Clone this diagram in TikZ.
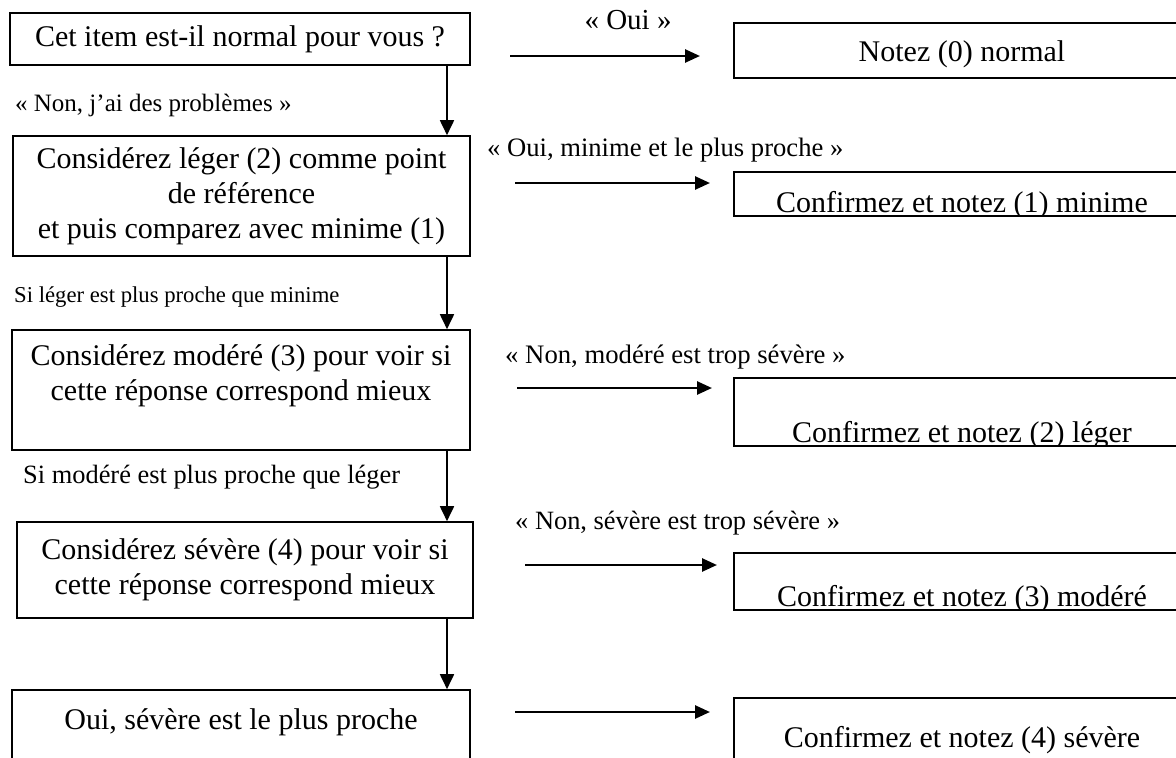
\documentclass[tikz,border=0pt]{standalone}
\usepackage{fontspec}
\setmainfont{Liberation Serif}
\usetikzlibrary{arrows.meta}
\tikzset{
  x=1pt, y=-1pt,
  lbox/.style={draw, line width=1.6pt, inner sep=0pt, align=center,
    font=\fontsize{30}{35}\selectfont},
  rframe/.style={draw, line width=1.6pt, inner sep=0pt},
  rtext/.style={inner sep=0pt, anchor=base, font=\fontsize{30}{35}\selectfont},
  varrow/.style={line width=1.8pt, -{Triangle[length=15pt,width=14pt]}},
  harrow/.style={line width=2.6pt, -{Triangle[length=15pt,width=13pt]}},
  lab/.style={inner sep=0pt, anchor=west},
}
\begin{document}
\begin{tikzpicture}
\useasboundingbox (0,0) rectangle (1176,758);
\clip (0,0) rectangle (1176,758);
\fill[white] (0,0) rectangle (1176,758);

% left column boxes
\node[lbox, minimum width=460pt, minimum height=52pt] (b1) at (240,39) {Cet item est-il normal pour vous ?};
\node[lbox, minimum width=457pt, minimum height=120pt] (b2) at (241.5,196)
  {\fontsize{30}{37}\selectfont Considérez léger (2) comme point\\de référence\\et puis comparez avec minime (1)};
\node[lbox, minimum width=458pt, minimum height=120pt] (b3) at (241,390)
  {Considérez modéré (3) pour voir si\\cette réponse correspond mieux\\\mbox{}};
\node[lbox, minimum width=456pt, minimum height=96pt] (b4) at (245,570)
  {Considérez sévère (4) pour voir si\\cette réponse correspond mieux};
\node[lbox, minimum width=458pt, minimum height=94pt] (b5) at (241,737)
  {Oui, sévère est le plus proche\\\mbox{}};

% vertical connectors
\coordinate (vx) at (447,0);
\draw[varrow] (b1.south -| vx) -- (b2.north -| vx);
\draw[varrow] (b2.south -| vx) -- (b3.north -| vx);
\draw[varrow] (b3.south -| vx) -- (b4.north -| vx);
\draw[varrow] (b4.south -| vx) -- (b5.north -| vx);

% left labels
\node[lab, font=\fontsize{25}{29}\selectfont] (l1) at (15,105) {« Non, j’ai des problèmes »};
\node[lab, font=\fontsize{22.7}{27}\selectfont] (l2) at (14,297) {Si léger est plus proche que minime};
\node[lab, font=\fontsize{26.4}{31}\selectfont] (l3) at (23,477) {Si modéré est plus proche que léger};

% right labels
\node[inner sep=0pt, font=\fontsize{29}{34}\selectfont] (r1) at (628,20) {« Oui »};
\node[lab, font=\fontsize{26.6}{31}\selectfont] (r2) at (487,150) {« Oui, minime et le plus proche »};
\node[lab, font=\fontsize{26.7}{31}\selectfont] (r3) at (505,357) {« Non, modéré est trop sévère »};
\node[lab, font=\fontsize{26.4}{31}\selectfont] (r4) at (515,523) {« Non, sévère est trop sévère »};

% horizontal arrows
\coordinate (h1s) at (510,56);  \coordinate (h1e) at (700,56);
\coordinate (h2s) at (515,183); \coordinate (h2e) at (710,183);
\coordinate (h3s) at (517,388); \coordinate (h3e) at (712,388);
\coordinate (h4s) at (525,565); \coordinate (h4e) at (717,565);
\coordinate (h5s) at (515,712); \coordinate (h5e) at (710,712);
\draw[harrow] (h1s) -- (h1e);
\draw[harrow] (h2s) -- (h2e);
\draw[harrow] (h3s) -- (h3e);
\draw[harrow] (h4s) -- (h4e);
\draw[harrow] (h5s) -- (h5e);

% right result boxes
\node[rframe, minimum width=456pt, minimum height=55pt] (n0) at (962,50.5) {};
\node[rtext] (t0) at (962,61) {Notez (0) normal};

\node[rframe, minimum width=456pt, minimum height=44pt] (n1) at (962,194) {};
\begin{scope}
\clip (734,172) rectangle (1190,214);
\node[rtext] (t1) at (962,212) {Confirmez et notez (1) minime};
\end{scope}

\node[rframe, minimum width=456pt, minimum height=68pt] (n2) at (962,412) {};
\begin{scope}
\clip (734,378) rectangle (1190,444);
\node[rtext] (t2) at (962,442) {Confirmez et notez (2) léger};
\end{scope}

\node[rframe, minimum width=456pt, minimum height=57pt] (n3) at (962,581.5) {};
\begin{scope}
\clip (734,553) rectangle (1190,608);
\node[rtext] (t3) at (962,606) {Confirmez et notez (3) modéré};
\end{scope}

\node[rframe, minimum width=456pt, minimum height=100pt] (n4) at (962,748) {};
\begin{scope}
\clip (734,698) rectangle (1190,756);
\node[rtext] (t4) at (962,747) {Confirmez et notez (4) sévère};
\end{scope}
\end{tikzpicture}
\end{document}
